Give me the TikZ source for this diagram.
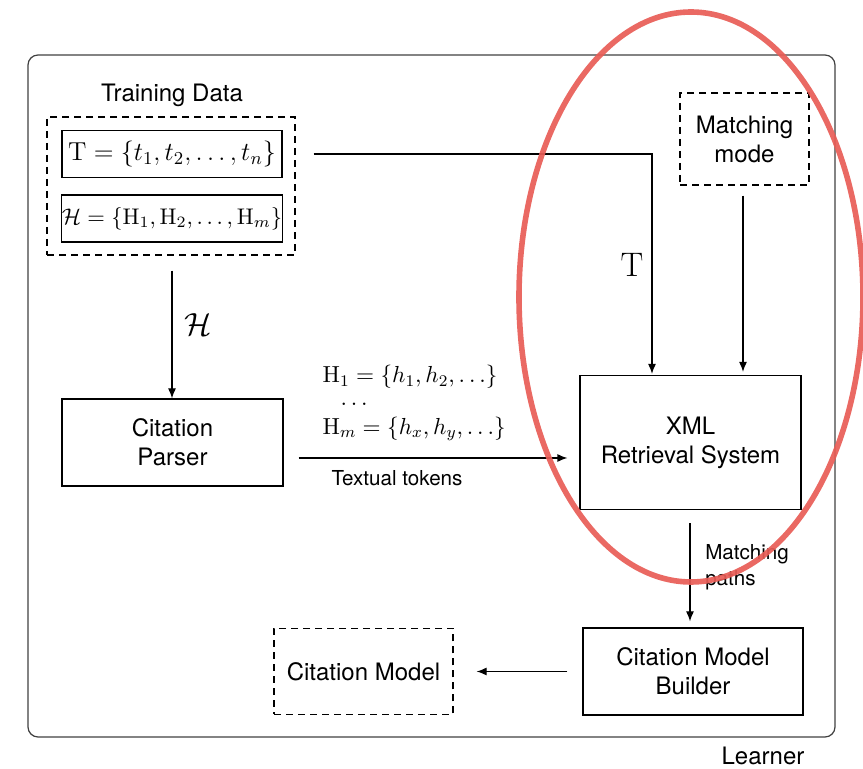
\RequirePackage{fix-cm}
\documentclass[tikz,border=0pt]{standalone}
\usepackage{amsmath}
\usepackage[no-math]{fontspec}
\setmainfont{TeX Gyre Heros}
\usetikzlibrary{arrows.meta,calc}
\definecolor{markred}{RGB}{232,92,86}

\begin{document}
\begin{tikzpicture}[x=0.5pt,y=-0.5pt,>={Latex[length=5pt,width=4pt]},
  line width=0.6pt,
  box/.style={draw,minimum width=#1,inner sep=0pt},
  dbox/.style={box=#1,dash pattern=on 3.5pt off 2.5pt},
  txt/.style={font=\fontsize{12}{14.5}\selectfont,align=center},
  small/.style={font=\fontsize{10.3}{13}\selectfont},
  tok/.style={font=\fontsize{11.6}{13}\selectfont,anchor=west,inner sep=0.5pt}]
\useasboundingbox (0,0) rectangle (863,769);
\node[draw=black!75,rounded corners=5pt,minimum width=403.5pt,minimum height=341pt] (learner) at (431.5,396) {};
\node[txt,inner sep=1pt] at (763,756) {Learner};
\node[dbox=124pt,minimum height=69pt] (tdata) at (171,186) {};
\node[txt] (tdlabel) at (172,95) {Training Data};
\node[box=110pt,minimum height=23.5pt,font=\fontsize{13}{15}\selectfont] (tset) at (172,154) {$\mathrm{T}=\{t_1,t_2,\ldots,t_n\}$};
\node[box=110pt,minimum height=23.5pt,font=\fontsize{11.3}{14}\selectfont] (hset) at (172,218.5) {$\mathcal{H}=\{\mathrm{H}_1,\mathrm{H}_2,\ldots,\mathrm{H}_m\}$};
\node[dbox=64.5pt,minimum height=46pt,txt] (mmode) at (744.5,139) {Matching\\mode};
\node[box=110.5pt,minimum height=67pt,txt] (xml) at (690.5,442.5) {XML\\Retrieval System};
\node[box=110.5pt,minimum height=43.5pt,txt] (parser) at (172.5,442.5) {Citation\\Parser};
\node[box=110pt,minimum height=43.5pt,txt] (builder) at (693,671.5) {Citation Model\\Builder};
\node[dbox=89.5pt,minimum height=43pt,txt] (cmodel) at (363.5,671.5) {Citation Model};
\draw[->,shorten <=15.5pt,shorten >=0.5pt] (tset.east) -| ([xshift=-19.25pt]xml.north);
\node[font=\fontsize{17}{20}\selectfont] (tlabel) at (632,265) {$\mathrm{T}$};
\draw[->,shorten <=5pt,shorten >=1.5pt] (mmode.south -| 743,0) -- (xml.north -| 743,0);
\draw[->,shorten <=7.5pt] (tdata.south -| 172,0) -- (parser.north -| 172,0);
\node[font=\fontsize{16}{19}\selectfont] (hlabel) at (198,325) {$\mathcal{H}$};
\draw[->,shorten <=7.5pt,shorten >=6pt] ([shift={(0,15.5)}]parser.east) -- ([shift={(0,15.5)}]xml.west);
\node[tok] (tokfirst) at (321,377) {$\mathrm{H}_1=\{h_1,h_2,\ldots\}$};
\node[tok] (tokdots) at (339,404) {$\ldots$};
\node[tok] (toklast) at (321,429) {$\mathrm{H}_m=\{h_x,h_y,\ldots\}$};
\node[small] (toklabel) at (397,478) {Textual tokens};
\draw[->,shorten <=6.5pt,shorten >=3pt] (xml.south -| 690,0) -- (builder.north -| 690,0);
\node[small,align=left,anchor=west] (mplabel) at (698,567) {Matching\\paths};
\draw[->,shorten <=7.5pt,shorten >=11.5pt] (builder.west) -- (cmodel.east);
\draw[markred,line width=2.8pt,opacity=0.92] (691,297) ellipse [x radius=172,y radius=285];
\end{tikzpicture}
\end{document}
